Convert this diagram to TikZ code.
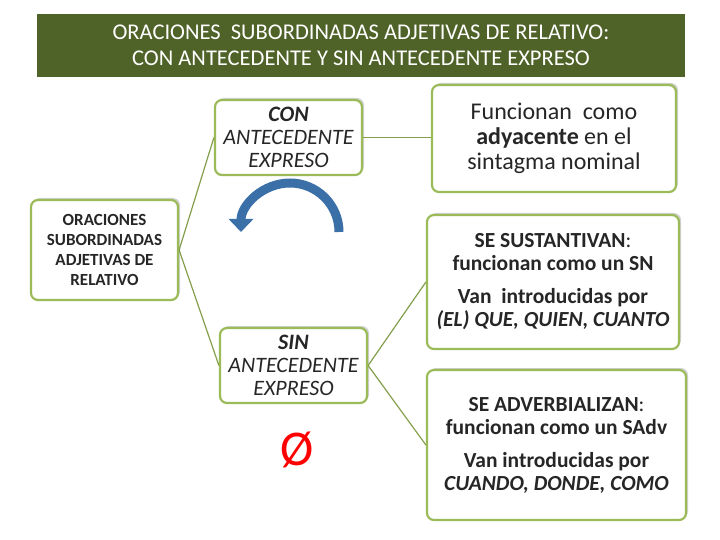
\documentclass[tikz,border=0pt]{standalone}
\usepackage{fontspec}
\setmainfont{Carlito}
\usetikzlibrary{shadows,arrows.meta}
\definecolor{olive}{HTML}{4F6228}
\definecolor{bgreen}{HTML}{9BBB59}
\definecolor{arrblue}{HTML}{3B6FA8}
\definecolor{boxtext}{HTML}{262626}
\tikzset{
 gbox/.style={draw=bgreen,line width=2.2pt,rounded corners=7pt,fill=white,text=boxtext,
   drop shadow={opacity=0.35,shadow xshift=2pt,shadow yshift=2pt},
   align=center,inner sep=1pt},
 conn/.style={draw=bgreen!85!black,line width=1.2pt}
}
\begin{document}
\begin{tikzpicture}[x=1pt,y=-1pt]
\useasboundingbox (0,0) rectangle (720,540);
\fill[white] (0,0) rectangle (720,540);
\node[fill=olive,minimum width=648pt,minimum height=63pt,text=white,align=center,font=\fontsize{22.5}{26}\selectfont] (title) at (361,45.5)
 {ORACIONES\ \ SUBORDINADAS ADJETIVAS DE RELATIVO:\\CON ANTECEDENTE Y SIN ANTECEDENTE EXPRESO};
\node[gbox,minimum width=147pt,minimum height=100pt,font=\bfseries\fontsize{17}{20}\selectfont] (main) at (104.5,250)
 {ORACIONES\\SUBORDINADAS\\ADJETIVAS DE\\RELATIVO};
\node[gbox,minimum width=147pt,minimum height=75pt,font=\itshape\fontsize{22}{23}\selectfont] (con) at (288.5,137.5)
 {\textbf{CON}\\ANTECEDENTE\\EXPRESO};
\node[gbox,minimum width=147pt,minimum height=75pt,font=\itshape\fontsize{22}{23}\selectfont] (sin) at (293.5,365.5)
 {\textbf{SIN}\\ANTECEDENTE\\EXPRESO};
\node[gbox,minimum width=244pt,minimum height=107pt,font=\fontsize{24}{25}\selectfont] (r1) at (554,138.5)
 {Funcionan\ \ como\\\textbf{adyacente} en el\\sintagma nominal};
\node[gbox,minimum width=252pt,minimum height=134pt,font=\bfseries\fontsize{21.5}{23}\selectfont] (r2) at (553,282)
 {SE SUSTANTIVAN\textmd{:}\\funcionan como un SN\\[10pt]Van\ \ introducidas por\\\textit{(EL) QUE, QUIEN, CUANTO}};
\node[gbox,minimum width=259pt,minimum height=150pt,font=\bfseries\fontsize{21.5}{23}\selectfont] (r3) at (556.5,445)
 {SE ADVERBIALIZAN\textmd{:}\\funcionan como un SAdv\\[10pt]Van introducidas por\\\textit{CUANDO, DONDE, COMO}};
\coordinate (mr) at (main.east);
\draw[conn] (mr) -- (con.west);
\draw[conn] (mr) -- (sin.west);
\draw[conn] (con.east) -- (con.east -| r1.west);
\draw[conn] (sin.east) -- (r2.west);
\draw[conn] (sin.east) -- (r3.west);
\draw[arrblue,line width=9pt,-{Triangle[width=24pt,length=13pt]}] (339,232) arc[start angle=0,end angle=-180,radius=49];
\node[text=red,font=\fontsize{50}{50}\selectfont] (empty) at (297,450) {Ø};
\end{tikzpicture}
\end{document}
